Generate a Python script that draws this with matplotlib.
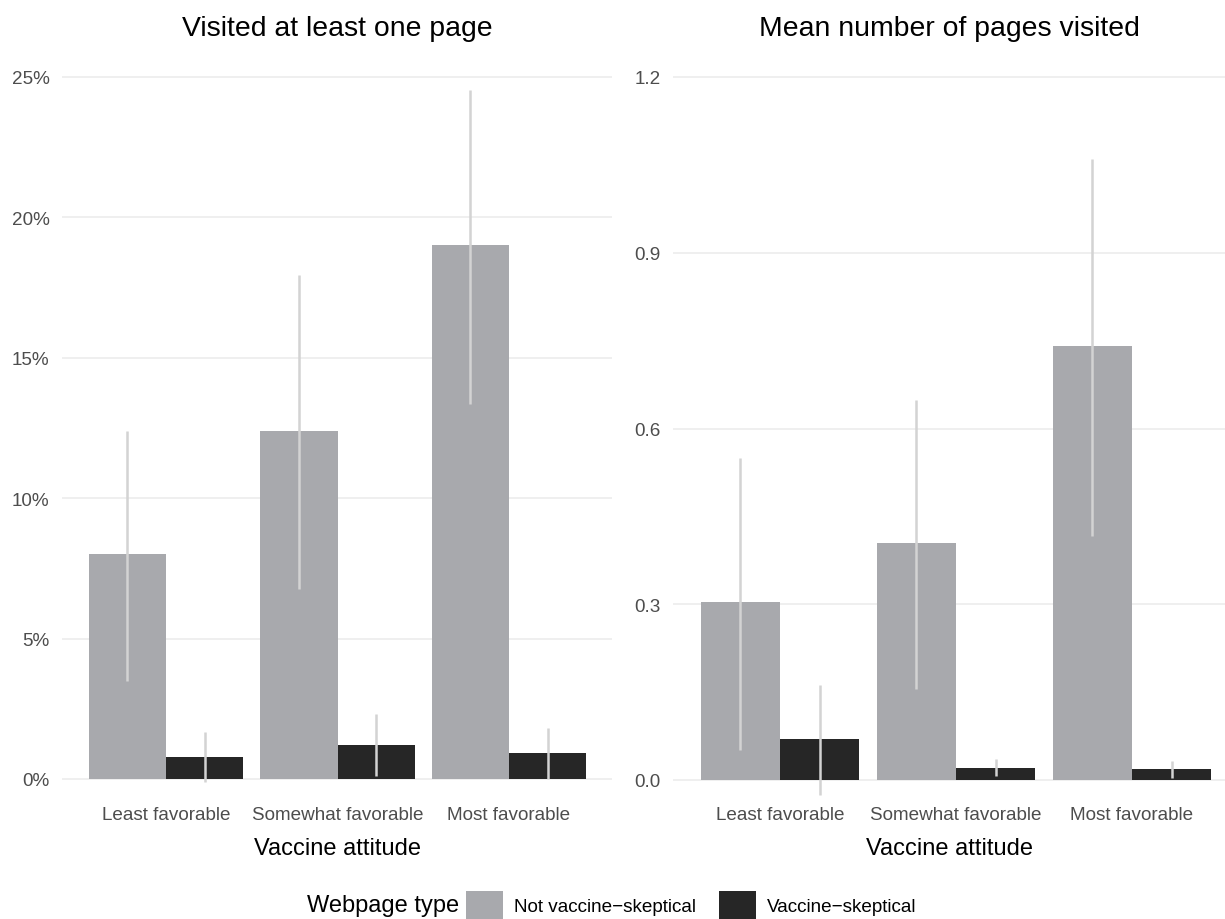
import numpy as np
import matplotlib
matplotlib.use("Agg")
import matplotlib.pyplot as plt
from matplotlib.patches import Patch
from matplotlib.ticker import FuncFormatter

plt.rcParams['font.family'] = ['Liberation Sans', 'DejaVu Sans']

# data
attitudes = ["Least favorable", "Somewhat favorable", "Most favorable"]
page_types = ["Not vaccine\u2212skeptical", "Vaccine\u2212skeptical"]

# visited at least one page (%)
visited_not = [8.0, 12.4, 19.0]
visited_not_lo = [3.5, 6.75, 13.35]
visited_not_hi = [12.4, 17.95, 24.55]
visited_skep = [0.8, 1.22, 0.93]
visited_skep_lo = [-0.1, 0.12, 0.0]
visited_skep_hi = [1.67, 2.3, 1.8]

# mean number of pages visited
mean_not = [0.303, 0.404, 0.741]
mean_not_lo = [0.051, 0.155, 0.417]
mean_not_hi = [0.55, 0.649, 1.06]
mean_skep = [0.07, 0.021, 0.018]
mean_skep_lo = [-0.025, 0.006, 0.003]
mean_skep_hi = [0.162, 0.035, 0.033]

grey_col = "#a8a9ad"
dark_col = "#262626"
err_col = "#d3d3d3"
grid_col = "#ebebeb"
tick_col = "#4d4d4d"

W, H = 1225, 920
fig = plt.figure(figsize=(W / 100, H / 100), dpi=100)


def px_axes(x0, x1, y0, y1):
    # pixel box (top-left origin) -> figure axes
    return fig.add_axes([x0 / W, 1 - y1 / H, (x1 - x0) / W, (y1 - y0) / H])


def draw_panel(ax, a, a_lo, a_hi, b, b_lo, b_hi, yticks, fmt):
    x = np.arange(1, len(attitudes) + 1)
    w = 0.45
    ax.bar(x - w / 2, a, width=w, color=grey_col, zorder=2)
    ax.bar(x + w / 2, b, width=w, color=dark_col, zorder=2)
    ax.vlines(x - w / 2, a_lo, a_hi, color=err_col, lw=1.8, zorder=3)
    ax.vlines(x + w / 2, b_lo, b_hi, color=err_col, lw=1.8, zorder=3)
    ax.set_xticks(x)
    ax.set_xticklabels(attitudes)
    ax.set_yticks(yticks)
    ax.yaxis.set_major_formatter(FuncFormatter(fmt))
    ax.grid(axis='y', color=grid_col, lw=1.1, zorder=0)
    ax.grid(axis='x', visible=False)
    for s in ax.spines.values():
        s.set_visible(False)
    ax.tick_params(length=0, labelsize=13.6, labelcolor=tick_col)
    ax.tick_params(axis='y', pad=9)
    ax.tick_params(axis='x', pad=5)
    ax.set_xlabel("Vaccine attitude", fontsize=17, labelpad=10)
    ax.set_axisbelow(True)


top, bot = 42, 800

# left panel: 0% at y=780, 25% at y=78
axl = px_axes(62, 612, top, bot)
sl = (780 - 78) / 25.0
axl.set_ylim((780 - bot) / sl, (780 - top) / sl)
axl.set_xlim(1 - (166 - 62) / 171.5, 3 + (612 - 509) / 171.5)
draw_panel(axl, visited_not, visited_not_lo, visited_not_hi,
           visited_skep, visited_skep_lo, visited_skep_hi,
           [0, 5, 10, 15, 20, 25], lambda v, p: "%d%%" % round(v))

# right panel: 0.0 at y=781, 1.2 at y=78
axr = px_axes(673, 1225, top, bot)
sr = (781 - 78) / 1.2
axr.set_ylim((781 - bot) / sr, (781 - top) / sr)
axr.set_xlim(1 - (780 - 673) / 176.0, 3 + (1225 - 1132) / 176.0)
draw_panel(axr, mean_not, mean_not_lo, mean_not_hi,
           mean_skep, mean_skep_lo, mean_skep_hi,
           [0.0, 0.3, 0.6, 0.9, 1.2], lambda v, p: "%.1f" % v)

# panel titles
fig.text(337 / W, 1 - 36 / H, "Visited at least one page", fontsize=20.4,
         ha='center', va='baseline')
fig.text(949 / W, 1 - 36 / H, "Mean number of pages visited", fontsize=20.4,
         ha='center', va='baseline')

# legend along the bottom
fig.text(307 / W, 1 - 906 / H, "Webpage type", fontsize=17, ha='left', va='center')
handles = [Patch(facecolor=grey_col, edgecolor='none'),
           Patch(facecolor=dark_col, edgecolor='none')]
fig.legend(handles, page_types, loc='center left',
           bbox_to_anchor=(466 / W, 1 - 906 / H), ncol=2, frameon=False,
           fontsize=13.6, handlelength=1.95, handleheight=1.95,
           handletextpad=0.6, columnspacing=1.2, borderpad=0, borderaxespad=0)

fig.savefig("out.png", dpi=100)
